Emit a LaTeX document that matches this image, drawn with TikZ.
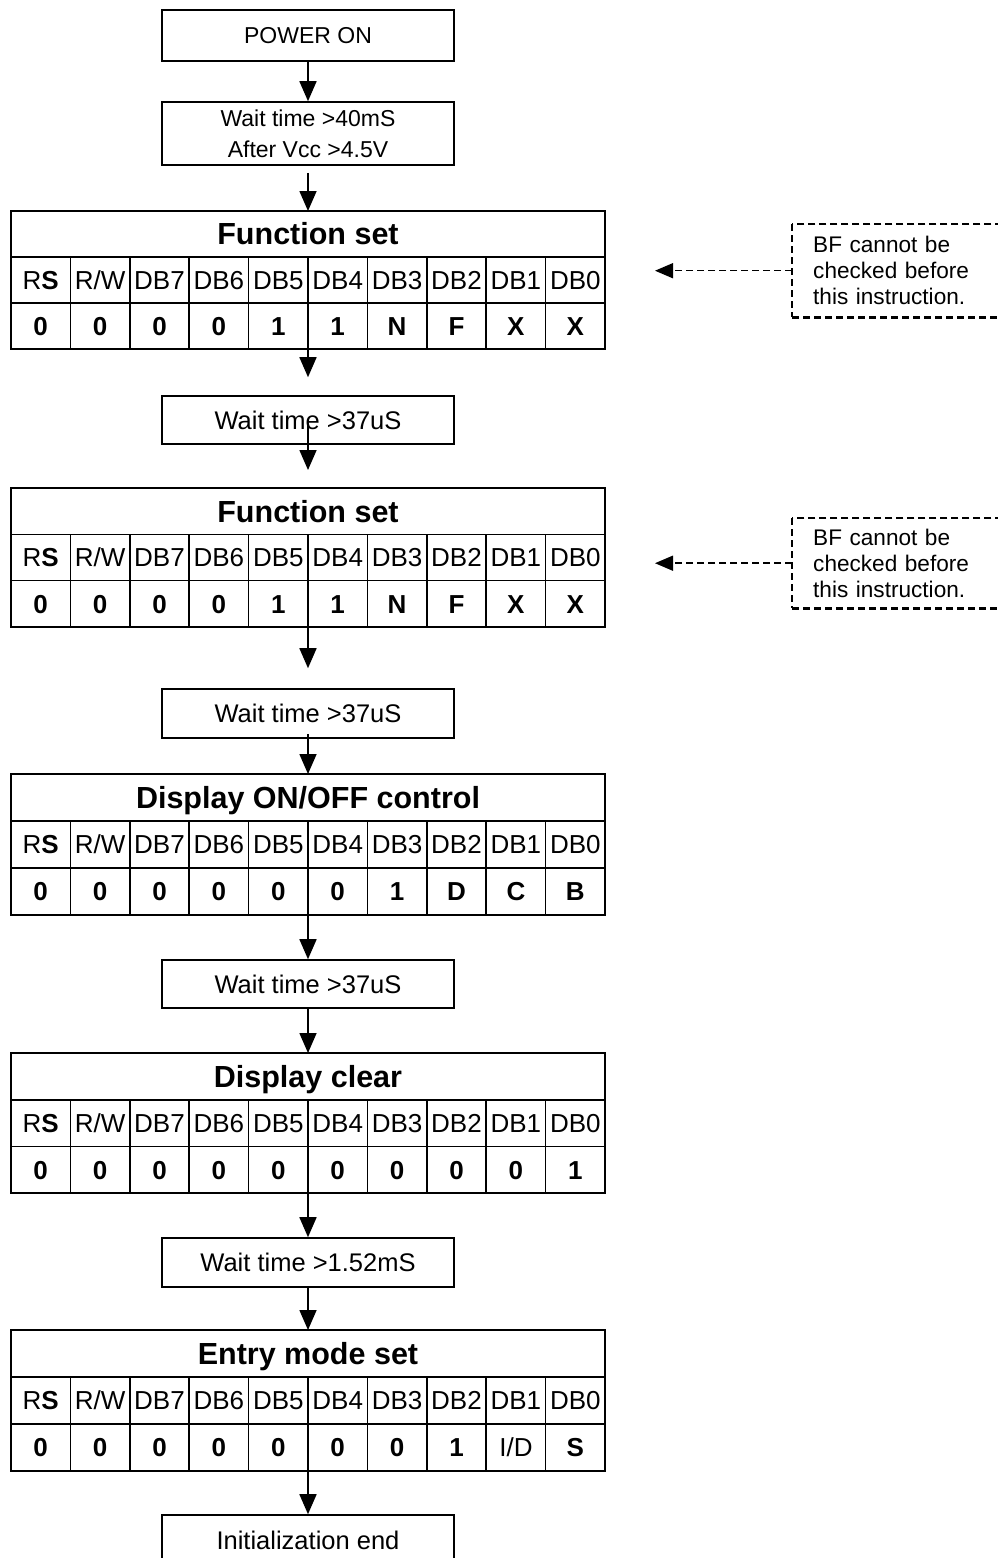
\documentclass[tikz,border=0pt]{standalone}
\usepackage{fontspec}
\setmainfont{Liberation Sans}
\usetikzlibrary{arrows.meta,positioning}

\tikzset{
  box/.style={draw, line width=1.6pt, minimum width=292pt, inner sep=0pt,
    align=center, font=\fontsize{23}{31}\selectfont},
  waitbox/.style={box, font=\fontsize{25.5}{31}\selectfont},
  titlecell/.style={draw, line width=1.6pt, minimum width=594pt, inner sep=0pt, outer sep=0pt,
    text height=21.8pt, text depth=0pt, font=\fontsize{30.5}{36}\selectfont\bfseries},
  headcell/.style={draw, line width=1.6pt, minimum width=59.4pt, inner sep=0pt, outer sep=0pt,
    text height=18.6pt, text depth=0pt, font=\fontsize{26}{30}\selectfont},
  valcell/.style={draw, line width=1.6pt, minimum width=59.4pt, inner sep=0pt, outer sep=0pt,
    text height=18.6pt, text depth=0pt, font=\fontsize{26}{30}\selectfont\bfseries},
  flow/.style={-{Triangle[length=20pt,width=17pt]}, line width=1.6pt},
  note/.style={inner sep=0pt, minimum width=210pt, text width=168pt, inner xsep=21pt,
    align=left, font=\fontsize{22.6}{26}\selectfont},
  noteline/.style={line width=2.4pt, dash pattern=on 7pt off 4pt},
  noteside/.style={line width=1.1pt, dash pattern=on 7pt off 4pt},
  notearrow/.style={-{Triangle[length=18pt,width=15pt]}, line width=1.5pt,
    dash pattern=on 7pt off 4pt},
}

% #1 name, #2 top, #3 row height, #4 title, #5 bit values
\newcommand{\instrtable}[5]{%
  \node[titlecell, minimum height=#3pt, anchor=north west] (#1) at (11,#2) {#4};
  \foreach \lab [count=\i] in {R\textbf{S},R/W,DB7,DB6,DB5,DB4,DB3,DB2,DB1,DB0}
    \node[headcell, minimum height=#3pt, anchor=north west] (#1-h\i)
      at ({11+(\i-1)*59.4},{#2+#3}) {\lab};
  \foreach \val [count=\i] in {#5}
    \node[valcell, minimum height=#3pt, anchor=north west] (#1-v\i)
      at ({11+(\i-1)*59.4},{#2+2*#3}) {\val};
}

\begin{document}
\begin{tikzpicture}[x=1pt, y=-1pt]
    \useasboundingbox (0,0) rectangle (997,1558);

    \node[box, minimum height=51pt] (pwr) at (308,35.5) {POWER ON};
    \node[box, minimum height=63pt] (wait1) at (308,133.5) {Wait time >40mS\\After Vcc >4.5V};
    \instrtable{fset1}{211}{46}{Function set}{0,0,0,0,1,1,N,F,X,X}
    \node[waitbox, minimum height=48pt] (wait2) at (308,420) {Wait time >37uS};
    \instrtable{fset2}{488}{46.3}{Function set}{0,0,0,0,1,1,N,F,X,X}
    \node[waitbox, minimum height=49pt] (wait3) at (308,713.5) {Wait time >37uS};
    \instrtable{onoff}{774}{47}{Display ON/OFF control}{0,0,0,0,0,0,1,D,C,B}
    \node[waitbox, minimum height=48pt] (wait4) at (308,984) {Wait time >37uS};
    \instrtable{clear}{1053}{46.7}{Display clear}{0,0,0,0,0,0,0,0,0,1}
    \node[waitbox, minimum height=49pt] (wait5) at (308,1262.5) {Wait time >1.52mS};
    \instrtable{entry}{1330}{47}{Entry mode set}{0,0,0,0,0,0,0,1,{\mdseries I/D},S}
    \node[waitbox, minimum height=50pt] (init) at (308,1540) {Initialization end};

    \draw[flow] (pwr) -- (wait1);
    \draw[flow, shorten <=7pt] (wait1) -- (fset1);
    \draw[flow, shorten >=18pt] (fset1-v5.south east) -- (wait2.north);
    \draw[flow, shorten <=-21pt, shorten >=18pt] (wait2.south) -- (fset2.north);
    \draw[flow, shorten >=20pt] (fset2-v5.south east) -- (wait3.north);
    \draw[flow, shorten <=-5pt] (wait3.south) -- (onoff.north);
    \draw[flow] (onoff-v5.south east) -- (wait4.north);
    \draw[flow] (wait4.south) -- (clear.north);
    \draw[flow] (clear-v5.south east) -- (wait5.north);
    \draw[flow] (wait5.south) -- (entry.north);
    \draw[flow] (entry-v5.south east) -- (init.north);

    % notes on the right
    \node[note, minimum height=93pt, anchor=north west] (bf1) at (792,224)
        {BF cannot be\\checked before\\this instruction.};
    \node[note, minimum height=90pt, anchor=north west] (bf2) at (792,518)
        {BF cannot be\\checked before\\this instruction.};
    \foreach \n in {bf1,bf2} {
        \draw[noteline] (\n.north east) -- (\n.north west);
        \draw[noteside] (\n.north west) -- (\n.south west);
        \draw[noteline] (\n.south west) -- (\n.south east);
        \coordinate[left=137pt of \n.west] (\n-tip);
        \draw[notearrow] (\n.west) -- (\n-tip);
    }
\end{tikzpicture}
\end{document}
